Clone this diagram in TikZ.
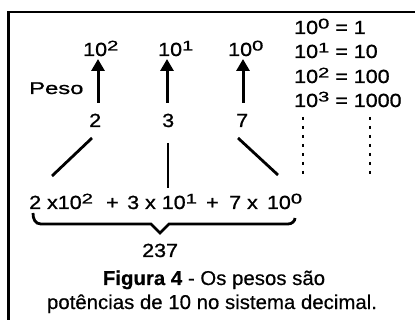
\documentclass[tikz,border=0pt]{standalone}
\usepackage{fontspec}
\setmainfont{Liberation Sans}
\newfontfamily\widefont[FakeStretch=1.13,FakeBold=1.0]{Liberation Sans}
\newfontfamily\supfont[FakeStretch=1.45,FakeBold=0.8]{Liberation Sans}
\newfontfamily\pesofont[FakeStretch=1.4,FakeBold=1.0]{Liberation Sans}
\newfontfamily\capfont[FakeStretch=1.02,FakeBold=0.5]{Liberation Sans}
\usetikzlibrary{arrows.meta}
\newcommand\sps[1]{\raisebox{5.5pt}{\supfont\fontsize{14}{14}\selectfont #1}}
\tikzset{
  txt/.style={inner sep=0pt, anchor=base west, font=\widefont\fontsize{19}{21}\selectfont},
  captxt/.style={inner sep=0pt, anchor=base, font=\capfont\fontsize{20}{22}\selectfont},
  arr/.style={line width=3pt, -{Triangle[width=13pt,length=12pt]}},
  ln/.style={line width=2.8pt},
  dotcol/.style={line width=2.6pt, dash pattern=on 2.6pt off 6.4pt},
}
\begin{document}
\begin{tikzpicture}[x=1pt,y=-1pt]
\useasboundingbox (0,0) rectangle (415,320);
% frame
\draw[line width=2.5pt] (8.5,340) -- (8.5,12) -- (430,12);
% powers
\node[txt] (p2) at (83,56) {10\sps{2}};
\node[txt] (p1) at (158,56) {10\sps{1}};
\node[txt] (p0) at (228,56) {10\sps{0}};
\node[txt, font=\pesofont\fontsize{17}{19}\selectfont] (peso) at (29,94) {Peso};
% digits
\node[txt] (d2) at (89,127) {2};
\node[txt] (d1) at (162,127) {3};
\node[txt] (d0) at (236,127) {7};
% arrows
\coordinate (a2) at (98,103);
\coordinate (a1) at (167,103);
\coordinate (a0) at (243,103);
\draw[arr] (a2) -- (98,59);
\draw[arr] (a1) -- (167,59);
\draw[arr] (a0) -- (243,59);
% terms
\node[txt] (t2) at (29,209) {2 x10\sps{2}};
\node[txt] (pl1) at (106,209) {+};
\node[txt] (t1) at (127,209) {3 x 10\sps{1}};
\node[txt] (pl2) at (206,209) {+};
\node[txt] (t0) at (229,209) {7 x\, 10\sps{0}};
% connecting lines
\coordinate (l2a) at (92,138); \coordinate (l2b) at (52,176);
\coordinate (l1a) at (168,143); \coordinate (l1b) at (168,188);
\coordinate (l0a) at (238,138); \coordinate (l0b) at (278,175);
\draw[ln] (l2a) -- (l2b);
\draw[ln] (l1a) -- (l1b);
\draw[ln] (l0a) -- (l0b);
% brace
\draw[ln, line join=miter] (33,213) .. controls (33,219) and (35,224) .. (41,224)
  -- (151,224) -- (160,233) -- (169,224) -- (288,224)
  .. controls (292,224) and (295,221) .. (295,218);
\node[txt] (sum) at (142,257) {237};
% caption
\node[captxt] (c1) at (214,285) {\textbf{Figura 4} - Os pesos são};
\node[captxt] (c2) at (212,309) {potências de 10 no sistema decimal.};
% right column
\node[txt] (r0) at (294,34) {10\sps{0} = 1};
\node[txt] (r1) at (294,58) {10\sps{1} = 10};
\node[txt] (r2) at (294,83) {10\sps{2} = 100};
\node[txt] (r3) at (294,107) {10\sps{3} = 1000};
\coordinate (v1a) at (303,117); \coordinate (v1b) at (303,176);
\coordinate (v2a) at (370,117); \coordinate (v2b) at (370,176);
\draw[dotcol] (v1a) -- (v1b);
\draw[dotcol] (v2a) -- (v2b);
\end{tikzpicture}
\end{document}
